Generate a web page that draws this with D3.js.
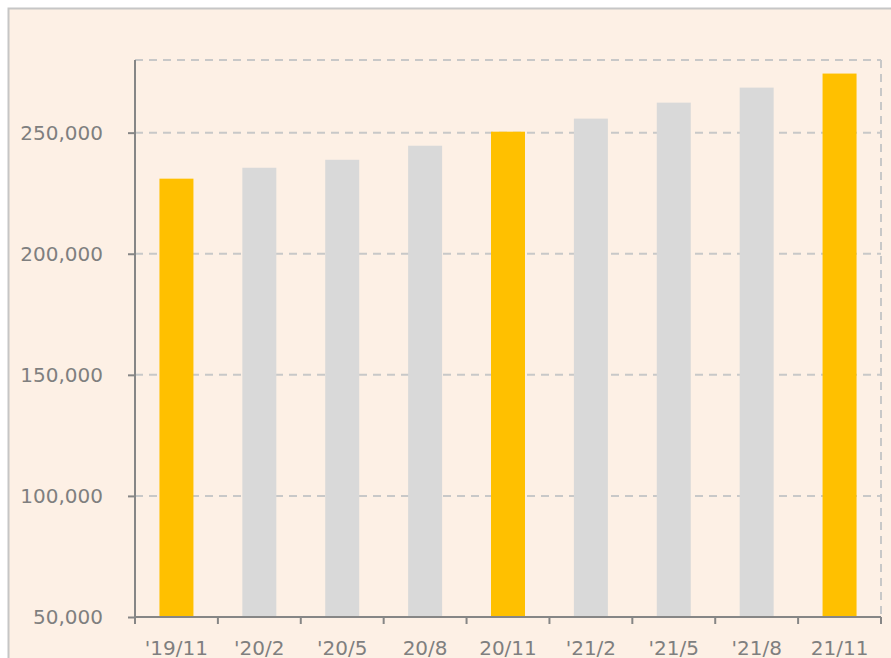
<!DOCTYPE html>
<html>
<head>
<meta charset="utf-8">
<script src="https://cdn.jsdelivr.net/npm/d3@7"></script>
<style>
  html, body { margin: 0; padding: 0; background: #fff; }
  svg { display: block; }
</style>
</head>
<body>
<svg id="chart" width="891" height="658"></svg>
<script>
const periods = ["'19/11", "'20/2", "'20/5", "20/8", "20/11", "'21/2", "'21/5", "'21/8", "21/11"];
const values = [231000, 235500, 238800, 244600, 250400, 255800, 262400, 268600, 274400];
const highlight = ["'19/11", "20/11", "21/11"];
const yTicks = [50000, 100000, 150000, 200000, 250000];

const svg = d3.select("#chart"),
      margin = { top: 60, right: 10, bottom: 41, left: 135 },
      width = +svg.attr("width") - margin.left - margin.right,
      height = +svg.attr("height") - margin.top - margin.bottom;

// panel background
svg.append("rect")
  .attr("x", 8.5).attr("y", 8.5)
  .attr("width", 900).attr("height", 700)
  .attr("fill", "#fdf0e5")
  .attr("stroke", "#c6c6c6")
  .attr("stroke-width", 2);

const g = svg.append("g").attr("transform", `translate(${margin.left},${margin.top})`);

const x = d3.scaleBand().domain(periods).range([0, width]).paddingInner(0.59).paddingOuter(0.295);
const y = d3.scaleLinear().domain([50000, 280000]).range([height, 0]);

// gridlines
g.append("g")
  .selectAll("line")
  .data(yTicks.slice(1).concat([280000]))
  .join("line")
  .attr("x1", 0).attr("x2", width)
  .attr("y1", d => y(d)).attr("y2", d => y(d))
  .attr("stroke", "#c8c8c8")
  .attr("stroke-width", 2)
  .attr("stroke-dasharray", "8,6");

// right border
g.append("line")
  .attr("x1", width).attr("x2", width)
  .attr("y1", 0).attr("y2", height)
  .attr("stroke", "#c8c8c8")
  .attr("stroke-width", 2)
  .attr("stroke-dasharray", "8,6");

// bars
g.selectAll(".bar")
  .data(periods.map((p, i) => ({ p, v: values[i] })))
  .join("rect")
  .attr("class", "bar")
  .attr("x", d => x(d.p))
  .attr("width", x.bandwidth())
  .attr("y", d => y(d.v))
  .attr("height", d => height - y(d.v))
  .attr("fill", d => highlight.includes(d.p) ? "#ffc000" : "#d9d9d9");

const axisColor = "#868686";
const textColor = "#7f7f7f";
const font = "Verdana, 'DejaVu Sans', sans-serif";

// y axis
const yAxisG = g.append("g")
  .call(d3.axisLeft(y).tickValues(yTicks).tickFormat(d3.format(",")).tickSize(7).tickPadding(25));
yAxisG.select(".domain").attr("stroke", axisColor).attr("stroke-width", 2)
  .attr("d", `M0,0V${height}`);
yAxisG.selectAll(".tick line").attr("stroke", axisColor).attr("stroke-width", 2);
yAxisG.selectAll("text")
  .attr("fill", textColor)
  .style("font-family", font)
  .style("font-size", "20px");

// x axis with boundary ticks
const xAxisG = g.append("g").attr("transform", `translate(0,${height})`);
xAxisG.append("line")
  .attr("x1", 0).attr("x2", width)
  .attr("stroke", axisColor).attr("stroke-width", 2);
const step = x.step();
xAxisG.selectAll(".xtick")
  .data(d3.range(periods.length + 1))
  .join("line")
  .attr("class", "xtick")
  .attr("x1", i => i * step).attr("x2", i => i * step)
  .attr("y1", 0).attr("y2", 7)
  .attr("stroke", axisColor).attr("stroke-width", 2);
xAxisG.selectAll(".xlabel")
  .data(periods)
  .join("text")
  .attr("class", "xlabel")
  .attr("x", d => x(d) + x.bandwidth() / 2)
  .attr("y", 38)
  .attr("text-anchor", "middle")
  .attr("fill", textColor)
  .style("font-family", font)
  .style("font-size", "20px")
  .text(d => d);
</script>
</body>
</html>
